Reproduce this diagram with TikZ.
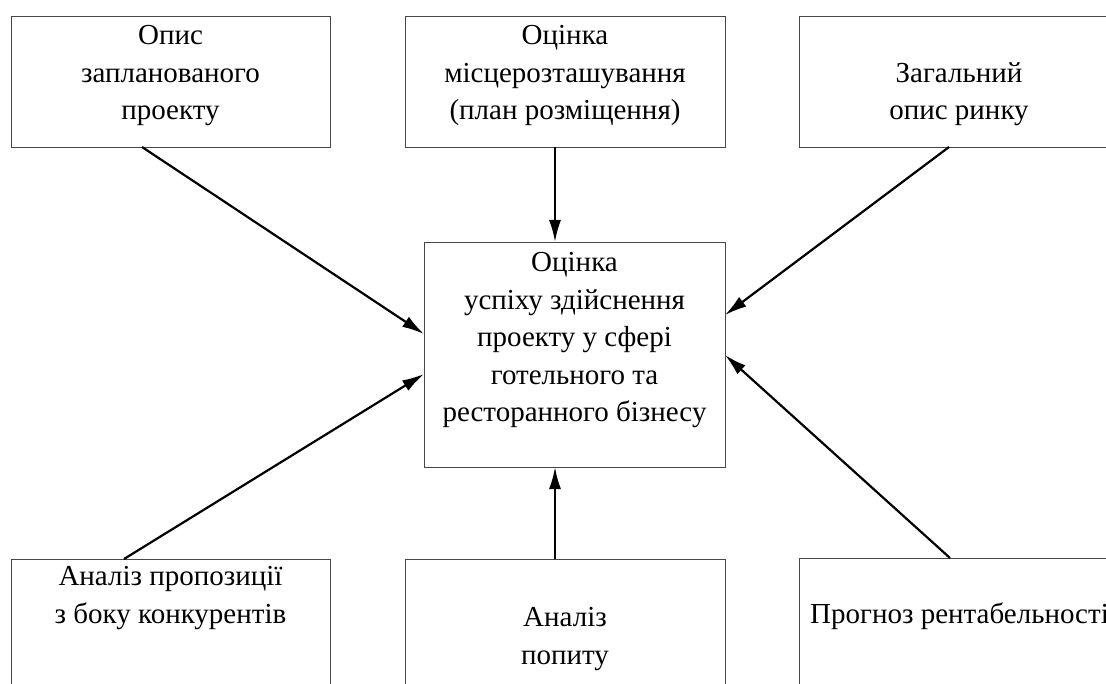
\documentclass[tikz,border=0pt]{standalone}
\usepackage{fontspec}
\setmainfont{Liberation Serif}
\usetikzlibrary{arrows.meta,calc}
\definecolor{boxline}{RGB}{70,70,70}
\tikzset{
  box/.style={draw=boxline, line width=0.9pt, rectangle, inner sep=0pt, outer sep=0pt, fill=white},
  lbl/.style={align=center, inner sep=0pt, font={\fontsize{29}{37.5}\selectfont}},
  arr/.style={line width=2.2pt, -{Latex[length=22pt,width=12pt]}}
}
\begin{document}
\begin{tikzpicture}[x=1pt,y=-1pt]
\useasboundingbox (0,0) rectangle (1106,684);
\clip (0,0) rectangle (1106,684);
% boxes
\node[box, minimum width=319pt, minimum height=131pt] (tl) at (170.5,81.5) {};
\node[box, minimum width=320pt, minimum height=131pt] (tm) at (565,81.5) {};
\node[box, minimum width=320pt, minimum height=131pt] (tr) at (959,81.5) {};
\node[box, minimum width=301pt, minimum height=225pt] (c) at (574.5,354.5) {};
\node[box, minimum width=319pt, minimum height=140pt] (bl) at (170.5,629) {};
\node[box, minimum width=320pt, minimum height=140pt] (bm) at (565,629) {};
\node[box, minimum width=320pt, minimum height=142pt] (br) at (959,629) {};
% texts (anchor base = baseline of last line)
\node[lbl, anchor=base] (tlt) at (170.5,120) {Опис\\запланованого\\проекту};
\node[lbl, anchor=base] (tmt) at (565,120) {Оцінка\\місцерозташування\\(план розміщення)};
\node[lbl, anchor=base] (trt) at (959,120) {Загальний\\опис ринку};
\node[lbl, anchor=base] (ct) at (574.5,422) {Оцінка\\успіху здійснення\\проекту у сфері\\готельного та\\ресторанного бізнесу};
\node[lbl, anchor=base] (blt) at (170.5,623) {Аналіз пропозиції\\з боку конкурентів};
\node[lbl, anchor=base] (bmt) at (565,664) {Аналіз\\попиту};
\node[lbl, anchor=base west] (brt) at (810,623) {Прогноз рентабельності};
% arrows
\draw[arr] ($(tl.south west)+(131,0)$) -- ($(c.west)+(0,-20.5)$);
\draw[arr] ($(tm.south)+(-10,0)$) -- ($(c.north west)+(131,0)$);
\draw[arr] ($(tr.south west)+(150,0)$) -- ($(c.east)+(0,-39.5)$);
\draw[arr] ($(bl.north west)+(113,0)$) -- ($(c.west)+(0,19.5)$);
\draw[arr] ($(bm.north west)+(150,0)$) -- ($(c.south west)+(131,0)$);
\draw[arr] ($(br.north west)+(151,0)$) -- ($(c.east)+(0,0.5)$);
\end{tikzpicture}
\end{document}
